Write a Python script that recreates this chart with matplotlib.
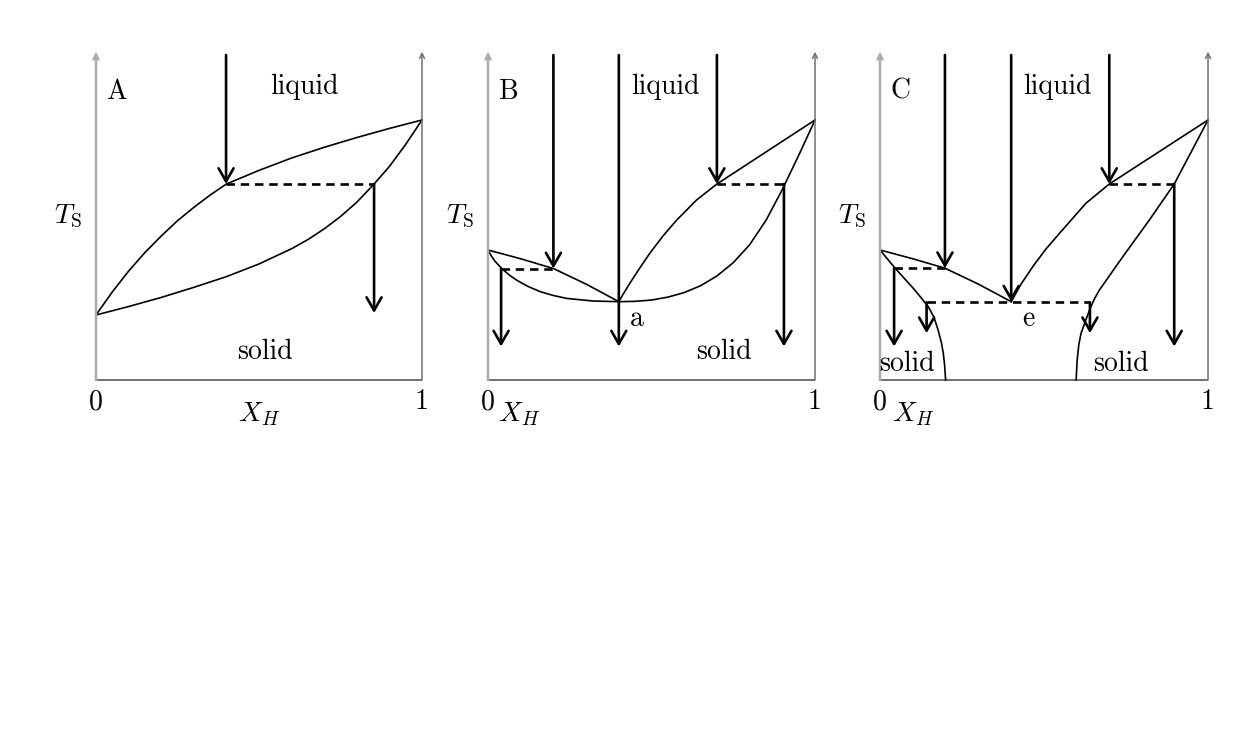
import matplotlib
matplotlib.use("Agg")
import matplotlib.pyplot as plt

plt.rcParams['font.family'] = 'serif'
plt.rcParams['font.serif'] = ['cmr10', 'DejaVu Serif']
plt.rcParams['mathtext.fontset'] = 'cm'
plt.rcParams['axes.unicode_minus'] = False

# ---------------- DATA (x = X_H, y = T scaled 0..1) ----------------
# panel A: ideal solution lens
A_liq_x = [0, 0.05, 0.1, 0.15, 0.2, 0.25, 0.3, 0.35, 0.4, 0.5, 0.6, 0.7, 0.8, 0.9, 1.0]
A_liq_y = [0.2, 0.271, 0.335, 0.392, 0.443, 0.49, 0.531, 0.569, 0.603,
           0.645, 0.683, 0.716, 0.746, 0.774, 0.8]
A_sol_x = [0, 0.1, 0.2, 0.3, 0.4, 0.5, 0.6, 0.65, 0.7, 0.75, 0.8, 0.853, 0.9, 0.95, 1.0]
A_sol_y = [0.2, 0.226, 0.254, 0.285, 0.318, 0.357, 0.404, 0.432, 0.465,
           0.503, 0.547, 0.603, 0.657, 0.725, 0.8]

# panel B: minimum at "a"
B_lliq_x = [0, 0.1, 0.2, 0.3, 0.4]
B_lliq_y = [0.4, 0.373, 0.343, 0.295, 0.241]
B_lsol_x = [0, 0.01, 0.021, 0.042, 0.065, 0.088, 0.12, 0.159, 0.2, 0.241, 0.322, 0.4]
B_lsol_y = [0.4, 0.382, 0.366, 0.343, 0.323, 0.307, 0.289, 0.272, 0.26, 0.251, 0.243, 0.241]
B_rliq_x = [0.4, 0.412, 0.434, 0.465, 0.495, 0.535, 0.577, 0.638, 0.7, 1.0]
B_rliq_y = [0.241, 0.262, 0.298, 0.346, 0.39, 0.443, 0.492, 0.554, 0.603, 0.8]
B_rsol_x = [0.4, 0.45, 0.5, 0.55, 0.6, 0.65, 0.7, 0.75, 0.8, 0.85, 0.9, 0.95, 1.0]
B_rsol_y = [0.241, 0.242, 0.246, 0.255, 0.269, 0.29, 0.32, 0.361, 0.416,
            0.491, 0.586, 0.691, 0.8]

# panel C: eutectic at "e"
C_lliq_x = [0, 0.1, 0.198, 0.3, 0.4]
C_lliq_y = [0.4, 0.373, 0.344, 0.295, 0.241]
C_lsol_x = [0, 0.046, 0.106, 0.147, 0.165, 0.177, 0.187, 0.193, 0.197, 0.2]
C_lsol_y = [0.4, 0.344, 0.277, 0.226, 0.192, 0.154, 0.116, 0.082, 0.045, 0.0]
C_rliq_x = [0.4, 0.43, 0.466, 0.505, 0.547, 0.628, 0.699, 1.0]
C_rliq_y = [0.241, 0.295, 0.349, 0.402, 0.451, 0.544, 0.603, 0.8]
C_rsol_x = [1.0, 0.952, 0.897, 0.821, 0.74, 0.669, 0.655, 0.643, 0.628,
            0.613, 0.606, 0.601, 0.598]
C_rsol_y = [0.8, 0.708, 0.603, 0.492, 0.379, 0.277, 0.252, 0.226, 0.186,
            0.144, 0.108, 0.06, 0.0]

# arrows: (x, y_start, y_end); dashed tie lines: (x0, x1, y)
A_arrows = [(0.399, 1.0, 0.603), (0.853, 0.603, 0.206)]
A_ties = [(0.399, 0.853, 0.603)]
B_arrows = [(0.2, 1.0, 0.343), (0.4, 1.0, 0.103), (0.7, 1.0, 0.603),
            (0.04, 0.343, 0.103), (0.905, 0.603, 0.103)]
B_ties = [(0.04, 0.2, 0.343), (0.7, 0.905, 0.603)]
C_arrows = [(0.198, 1.0, 0.344), (0.4, 1.0, 0.241), (0.699, 1.0, 0.603),
            (0.043, 0.344, 0.103), (0.142, 0.239, 0.144), (0.64, 0.239, 0.144),
            (0.897, 0.603, 0.103)]
C_ties = [(0.043, 0.198, 0.344), (0.142, 0.64, 0.239), (0.699, 0.897, 0.603)]

panel_names = ['A', 'B', 'C']
tick_labels = ['0', '1']
# --------------------------------------

fig = plt.figure(figsize=(12.56, 7.29), dpi=100)
bottom, height = 0.47874, 0.44582
axA = fig.add_axes([0.07643, bottom, 0.25955, height])
axB = fig.add_axes([0.38854, bottom, 0.26035, height])
axC = fig.add_axes([0.70064, bottom, 0.26115, height])

ARROW = dict(arrowstyle='->,head_length=0.47,head_width=0.27', lw=1.9,
             color='k', shrinkA=0, shrinkB=0, mutation_scale=20)


def frame(ax, name, xh_x):
    ax.set_xlim(0, 1)
    ax.set_ylim(0, 1)
    ax.axis('off')
    # axes drawn as gray arrows
    ax.annotate('', xy=(0, 1.01), xytext=(0, 0), annotation_clip=False,
                arrowprops=dict(arrowstyle='->', lw=1.8, color='#ababab',
                                shrinkA=0, shrinkB=0, mutation_scale=9))
    ax.annotate('', xy=(1, 1.01), xytext=(1, 0), annotation_clip=False,
                arrowprops=dict(arrowstyle='->', lw=1.1, color='#707070',
                                shrinkA=0, shrinkB=0, mutation_scale=9))
    ax.plot([0, 1], [0, 0], color='#707070', lw=1.4, clip_on=False,
            solid_capstyle='butt')
    ax.text(0, -0.09, tick_labels[0], ha='center', va='baseline', fontsize=20)
    ax.text(1, -0.09, tick_labels[1], ha='center', va='baseline', fontsize=20)
    ax.text(-0.086, 0.482, r'$T_\mathrm{S}$', ha='center', va='baseline', fontsize=20)
    ax.text(xh_x, -0.128, r'$X_H$', ha='center', va='baseline', fontsize=20)
    ax.text(0.064, 0.866, name, ha='center', va='baseline', fontsize=20)


def draw(ax, curves, arrows, ties):
    for xs, ys in curves:
        ax.plot(xs, ys, color='k', lw=1.2, clip_on=False)
    for x0, x1, y in ties:
        ax.plot([x0, x1], [y, y], color='k', lw=1.9, dashes=(3.2, 2.2),
                clip_on=False)
    for x, y0, y1 in arrows:
        ax.annotate('', xy=(x, y1), xytext=(x, y0), annotation_clip=False,
                    arrowprops=ARROW)


frame(axA, panel_names[0], 0.5)
draw(axA, [(A_liq_x, A_liq_y), (A_sol_x, A_sol_y)], A_arrows, A_ties)
axA.text(0.64, 0.88, 'liquid', ha='center', va='baseline', fontsize=20)
axA.text(0.518, 0.064, 'solid', ha='center', va='baseline', fontsize=20)

frame(axB, panel_names[1], 0.095)
draw(axB, [(B_lliq_x, B_lliq_y), (B_lsol_x, B_lsol_y),
           (B_rliq_x, B_rliq_y), (B_rsol_x, B_rsol_y)], B_arrows, B_ties)
axB.text(0.542, 0.88, 'liquid', ha='center', va='baseline', fontsize=20)
axB.text(0.72, 0.064, 'solid', ha='center', va='baseline', fontsize=20)
axB.text(0.455, 0.166, 'a', ha='center', va='baseline', fontsize=20)

frame(axC, panel_names[2], 0.1)
draw(axC, [(C_lliq_x, C_lliq_y), (C_lsol_x, C_lsol_y),
           (C_rliq_x, C_rliq_y), (C_rsol_x, C_rsol_y)], C_arrows, C_ties)
axC.text(0.541, 0.88, 'liquid', ha='center', va='baseline', fontsize=20)
axC.text(0.081, 0.028, 'solid', ha='center', va='baseline', fontsize=20)
axC.text(0.736, 0.028, 'solid', ha='center', va='baseline', fontsize=20)
axC.text(0.451, 0.166, 'e', ha='center', va='baseline', fontsize=20)

fig.savefig("out.png", dpi=100, facecolor='white')
